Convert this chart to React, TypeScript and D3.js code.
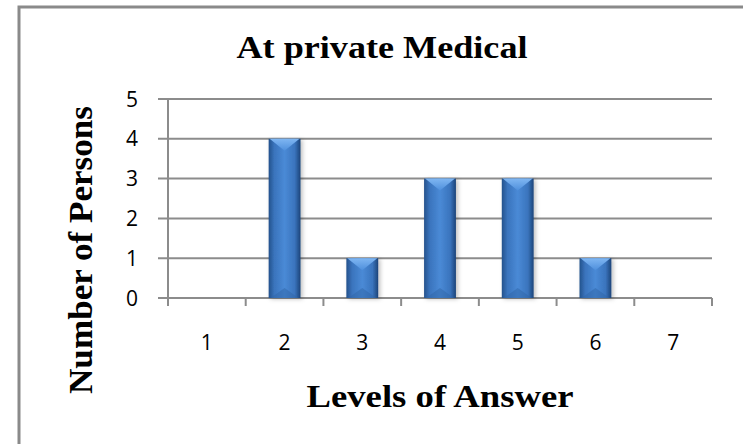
import React, { Component } from 'react';
import * as d3 from 'd3';

const levels = ['1', '2', '3', '4', '5', '6', '7'];
const persons = [0, 4, 1, 3, 3, 1, 0];
const yTicks = [0, 1, 2, 3, 4, 5];

class Chart extends Component {
  myRef: any;
  constructor(props: any) {
    super(props);
    this.myRef = React.createRef();
  }

  componentDidMount() {
    const W = 743, H = 444;
    const left = 168, right = 712, top = 99, bottom = 298;

    const root = d3.select(this.myRef.current);
    root.selectAll('*').remove();

    const svg = root.append('svg')
      .attr('width', W)
      .attr('height', H)
      .style('position', 'absolute')
      .style('left', 0)
      .style('top', 0)
      .style('background', '#fff');

    const xScale = d3.scaleBand().domain(levels).range([left, right]).padding(0);
    const yScale = d3.scaleLinear().domain([0, 5]).range([bottom, top]);

    // gradients
    const defs = svg.append('defs');
    const grad = defs.append('linearGradient').attr('id', 'barGrad')
      .attr('x1', '0%').attr('x2', '100%').attr('y1', '0%').attr('y2', '0%');
    grad.append('stop').attr('offset', '0%').attr('stop-color', '#24528c');
    grad.append('stop').attr('offset', '18%').attr('stop-color', '#3a74bd');
    grad.append('stop').attr('offset', '50%').attr('stop-color', '#4a8ad6');
    grad.append('stop').attr('offset', '82%').attr('stop-color', '#3a74bd');
    grad.append('stop').attr('offset', '100%').attr('stop-color', '#1c4479');

    const topGrad = defs.append('linearGradient').attr('id', 'topGrad')
      .attr('x1', '0%').attr('x2', '0%').attr('y1', '0%').attr('y2', '100%');
    topGrad.append('stop').attr('offset', '0%').attr('stop-color', '#7fb6f2');
    topGrad.append('stop').attr('offset', '100%').attr('stop-color', '#4e8fdc');

    const shadow = defs.append('filter').attr('id', 'shadow')
      .attr('x', '-30%').attr('y', '-10%').attr('width', '160%').attr('height', '130%');
    shadow.append('feDropShadow').attr('dx', 2).attr('dy', 1)
      .attr('stdDeviation', 2).attr('flood-color', '#000').attr('flood-opacity', 0.25);

    // frame (only left and top show in the crop)
    svg.append('rect')
      .attr('x', 19).attr('y', 7)
      .attr('width', W + 20).attr('height', H + 20)
      .attr('fill', 'none')
      .attr('stroke', '#8a8a8a')
      .attr('stroke-width', 3);

    // title
    svg.append('text')
      .attr('x', 382).attr('y', 58)
      .attr('text-anchor', 'middle')
      .attr('font-family', '"Liberation Serif", "Times New Roman", serif')
      .attr('font-weight', 'bold')
      .attr('font-size', 32)
      .attr('textLength', 291)
      .attr('lengthAdjust', 'spacingAndGlyphs')
      .attr('fill', '#000')
      .text('At private Medical');

    // gridlines + y ticks
    svg.append('g').selectAll('line')
      .data(yTicks)
      .enter()
      .append('line')
      .attr('x1', left - 10).attr('x2', right)
      .attr('y1', d => yScale(d)).attr('y2', d => yScale(d))
      .attr('stroke', '#8c8c8c')
      .attr('stroke-width', 2);

    svg.append('g').selectAll('text')
      .data(yTicks)
      .enter()
      .append('text')
      .attr('x', 138)
      .attr('y', d => yScale(d))
      .attr('dy', '0.36em')
      .attr('text-anchor', 'end')
      .attr('font-family', '"Open Sans", sans-serif')
      .attr('font-size', 21)
      .attr('fill', '#000')
      .text(d => d);

    // y axis line
    svg.append('line')
      .attr('x1', left).attr('x2', left)
      .attr('y1', top).attr('y2', bottom + 8)
      .attr('stroke', '#8c8c8c')
      .attr('stroke-width', 2);

    // x ticks at category boundaries
    const bounds = levels.map(d => xScale(d) as number).concat([right]);
    svg.append('g').selectAll('line')
      .data(bounds)
      .enter()
      .append('line')
      .attr('x1', d => d).attr('x2', d => d)
      .attr('y1', bottom).attr('y2', bottom + 8)
      .attr('stroke', '#8c8c8c')
      .attr('stroke-width', 2);

    svg.append('g').selectAll('text')
      .data(levels)
      .enter()
      .append('text')
      .attr('x', d => (xScale(d) as number) + xScale.bandwidth() / 2)
      .attr('y', 350)
      .attr('text-anchor', 'middle')
      .attr('font-family', '"Open Sans", sans-serif')
      .attr('font-size', 21)
      .attr('fill', '#000')
      .text(d => d);

    // bars
    const bw = xScale.bandwidth() * 0.41;
    const bx = (lvl: string) => (xScale(lvl) as number) + (xScale.bandwidth() - bw) / 2;
    const bars = svg.append('g').selectAll('g')
      .data(levels.map((d, i) => ({ level: d, value: persons[i] })).filter(d => d.value > 0))
      .enter()
      .append('g');

    bars.append('rect')
      .attr('x', d => bx(d.level))
      .attr('y', d => yScale(d.value))
      .attr('width', bw)
      .attr('height', d => bottom - yScale(d.value))
      .attr('fill', 'url(#barGrad)')
      .attr('filter', 'url(#shadow)');

    // top bevel
    bars.append('path')
      .attr('d', d => {
        const x0 = bx(d.level);
        const y0 = yScale(d.value);
        return `M${x0 + 1},${y0}L${x0 + bw - 1},${y0}L${x0 + bw / 2},${y0 + 12}Z`;
      })
      .attr('fill', 'url(#topGrad)');

    // bottom bevel
    bars.append('path')
      .attr('d', d => {
        const x0 = bx(d.level);
        return `M${x0 + 2},${bottom}L${x0 + bw - 2},${bottom}L${x0 + bw / 2},${bottom - 10}Z`;
      })
      .attr('fill', '#2f66a8')
      .attr('opacity', 0.5);

    // axis titles
    svg.append('text')
      .attr('transform', 'translate(92,250) rotate(-90)')
      .attr('text-anchor', 'middle')
      .attr('font-family', '"Liberation Serif", "Times New Roman", serif')
      .attr('font-weight', 'bold')
      .attr('font-size', 34)
      .attr('textLength', 288)
      .attr('lengthAdjust', 'spacingAndGlyphs')
      .attr('fill', '#000')
      .text('Number of Persons');

    svg.append('text')
      .attr('x', 440).attr('y', 407)
      .attr('text-anchor', 'middle')
      .attr('font-family', '"Liberation Serif", "Times New Roman", serif')
      .attr('font-weight', 'bold')
      .attr('font-size', 32)
      .attr('textLength', 267)
      .attr('lengthAdjust', 'spacingAndGlyphs')
      .attr('fill', '#000')
      .text('Levels of Answer');
  }

  render() {
    return <div ref={this.myRef}></div>;
  }
}

export default function App() {
  return <Chart />;
}
